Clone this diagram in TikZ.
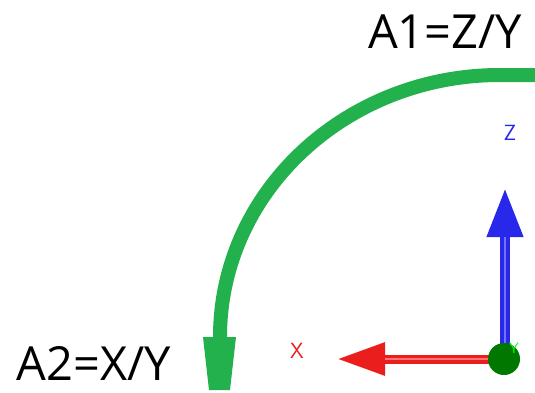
\documentclass[tikz,border=0pt]{standalone}
\usepackage{fontspec}
\setmainfont{Open Sans}
\usetikzlibrary{arrows.meta,positioning,calc}
\definecolor{arcgreen}{RGB}{34,177,76}
\definecolor{axred}{RGB}{235,30,30}
\definecolor{axblue}{RGB}{40,40,235}
\definecolor{axgreen}{RGB}{0,120,0}

\begin{document}
\begin{tikzpicture}[x=1pt,y=1pt,every node/.style={inner sep=0pt}]
    \useasboundingbox (0,0) rectangle (535,392);
    % Labels of the two axes pairs
    \node[anchor=base,font=\fontsize{47}{56}\selectfont] (A1) at (445,344) {A1=Z/Y};
    \node[anchor=base,font=\fontsize{47}{56}\selectfont] (A2) at (94,12) {A2=X/Y};
    % Rotation arc
    \coordinate (arcstart) at (535,317);
    \coordinate (arcend) at (220,55);
    \draw[arcgreen,line width=14pt] (arcstart) -- (500,317)
         arc[start angle=90,end angle=180,x radius=280,y radius=262];
    \fill[arcgreen] ($(arcend)+(-17,0)$) -- ($(arcend)+(16,0)$)
         -- ($(arcend)+(10,-53)$) -- ($(arcend)+(-11,-53)$) -- cycle;
    % Axis arrows
    \coordinate (xtip) at (337,33);
    \coordinate (ztip) at (505,204);
    \draw[axred,line width=9pt,-{Triangle[length=48pt,width=31pt]}] (504,33) -- (xtip);
    \draw[red!55!white,line width=1.5pt,shorten >=48pt] (504,33) -- (xtip);
    \draw[axblue,line width=10pt,-{Triangle[length=49pt,width=34pt]}] (505,33) -- (ztip);
    \draw[blue!55!white,line width=1.5pt,shorten >=49pt] (505,33) -- (ztip);
    \node[circle,fill=axgreen,minimum size=32pt] (origin) at (504,33) {};
    % Axis names
    \node[axred,font=\fontsize{22}{26}\selectfont\sffamily] (xname) at (297,41) {X};
    \node[axblue,font=\fontsize{22}{26}\selectfont\sffamily] (zname) at (510,259) {Z};
    \node[green,font=\fontsize{15}{18}\selectfont\sffamily] (yname) at (514,44) {Y};
\end{tikzpicture}
\end{document}
